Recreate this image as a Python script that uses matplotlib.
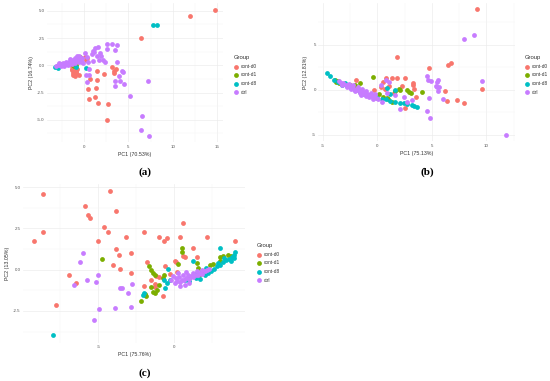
import matplotlib
matplotlib.use("Agg")
import matplotlib.pyplot as plt
from matplotlib.ticker import MultipleLocator

plt.rcParams["font.family"] = ["Liberation Sans", "DejaVu Sans"]

groups = ["cont-d0", "cont-d1", "cont-d8", "ctrl"]
colors = ["#F8766D", "#7CAE00", "#00BFC4", "#C77CFF"]

# ---- panel (a) ----
a_d0_x = [14.77, 11.9, 6.39, 2.56, 2.74, 1.61, 0.6, 1.24, 0.49, 1.39, 0.68, 1.5, 2.2, 1.45, 3.18, 3.35, 3.6, 3.42, -0.55, 0.11, 0.25, 0.3,
          -1.35, -1.2, -1.05, -1.3, -1.15, -0.95, -1.25, -1.05, -0.85, -1.4, -0.9, -1.1, -0.8, -1.2, -1.0]
a_d0_y = [5.1, 4.52, 2.48, -5.02, -3.52, -3.46, -3.05, -2.86, -2.2, -2.05, -1.25, -1.38, -0.83, -0.52, -0.18, -0.48, -0.3, -0.68, -0.85, 0.79, 0.49, 0.65,
          -0.1, -0.25, -0.35, -0.45, -0.55, -0.6, -0.7, -0.8, -0.75, -0.3, -0.45, -0.15, -0.3, -0.9, -0.95]
a_d1_x = [-0.6, -0.45, -1.25, -1.1, -0.95, -1.15]
a_d1_y = [0.8, 0.75, 0.05, 0.0, 0.05, -0.1]
a_d8_x = [7.82, 8.23, -3.25, -3.05, -2.7, 0.25, -0.85, -2.95]
a_d8_y = [3.67, 3.73, -0.15, -0.08, 0.12, -0.2, -0.12, -0.2]
a_ctrl_x = [2.63, 3.16, 3.76, 3.46, 2.56, 3.76, 4.25, 4.45, 3.95, 4.06, 4.51, 3.5, 3.5, 7.25, 5.19, 6.58, 6.39, 7.29, 0.37, 0.23,
            0.6, 0.6, 0.98, 1.72, 2.18, 2.4, 1.43, 1.8, 0.9, 1.28, 1.13, 1.0, 0.11, 0.37, -0.26, -0.15, -0.75, 1.55, 1.9, 0.5,
            -3.1, -2.9, -2.7, -2.5, -2.3, -2.1, -1.9, -1.7, -1.5, -1.3, -1.1, -0.9, -0.7, -0.5, -0.3, -2.8, -2.4, -2.0, -1.6, -1.2,
            -0.8, -0.4, -2.6, -2.2, -1.8, -1.4, -1.0, -0.6, -0.2, -1.6, -1.0, -0.6]
a_ctrl_y = [1.93, 1.98, 1.86, 1.38, 1.5, 0.33, -0.5, -0.62, -0.98, -1.47, -1.68, -1.47, -1.9, -1.41, -2.82, -4.65, -5.9, -6.49, -1.5, -0.89,
            -0.86, -0.34, 0.42, 0.49, 0.49, 0.3, 0.88, 1.1, 1.04, 1.56, 1.25, 1.35, 1.16, 0.79, 0.64, 0.18, 0.88, 1.7, 0.9, 0.3,
            -0.05, 0.0, 0.05, 0.1, 0.05, 0.15, 0.2, 0.15, 0.25, 0.3, 0.35, 0.4, 0.45, 0.5, 0.55, 0.2, 0.25, 0.3, 0.4, 0.5,
            0.55, 0.7, -0.1, -0.05, 0.0, 0.1, 0.2, 0.3, 0.35, 0.55, 0.65, 0.85]

# ---- panel (b) ----
b_d0_x = [9.18, 1.78, 4.7, 6.46, 6.72, -1.92, 0.5, 0.83, 1.32, 1.83, 2.5, 3.25, 3.28, 3.35, 2.24, 1.1, 0.34, 0.68, 3.58, 6.2,
          6.35, 7.33, 7.98, 9.63, 2.52, -0.3, 1.5]
b_d0_y = [8.94, 3.7, 2.48, 2.76, 3.02, 1.11, 0.93, 1.3, 1.3, 1.37, 1.37, 0.83, 0.5, 0.1, 0.44, 0.44, 0.37, 0.07, -0.74, -0.13,
          -1.19, -1.11, -1.48, 0.11, -1.95, 0.0, -0.3]
b_d1_x = [-3.88, -3.8, -3.6, -3.5, -1.59, -0.37, 0.55, 0.85, 1.32, 1.62, 2.08, 1.95, 2.7, 2.9, 3.05, 4.13, -2.0, -2.5, 0.2, 1.0]
b_d1_y = [1.11, 0.85, 0.95, 0.75, 0.78, 1.41, -0.74, -0.9, -1.3, -0.07, 0.0, 0.1, 0.0, -0.26, -0.37, -0.19, 0.5, 0.6, -0.5, -1.0]
b_d8_x = [-4.59, -4.34, -3.94, -3.6, -3.2, -2.8, -2.4, -2.0, -1.6, -1.2, -0.8, -0.4, 0.0, 0.4, 0.8, 1.2, 1.62, 2.08, 2.45, 2.75,
          3.21, 3.4, 3.61, 1.62, 1.17, 0.9, -3.0]
b_d8_y = [1.93, 1.56, 1.11, 0.85, 0.6, 0.4, 0.2, 0.0, -0.2, -0.4, -0.55, -0.7, -0.85, -1.0, -1.05, -1.2, -1.3, -1.48, -1.4, -1.59,
          -1.7, -1.78, -1.85, 0.0, -0.44, 0.2, 0.8]
b_ctrl_x = [8.9, 7.92, 9.63, 11.8, 4.53, 4.62, 4.93, 5.45, 5.6, 5.36, 5.5, 5.65, 5.54, 4.77, 6.06, 4.53, 4.84, 2.48, 3.15, 2.7,
            2.08, 0.8, 1.1, 0.3, 1.6, 0.9,
            -3.5, -3.3, -3.1, -2.9, -2.7, -2.5, -2.3, -2.1, -1.9, -1.7, -1.5, -1.3, -1.1, -0.9, -0.7, -0.5, -0.3, -0.1, 0.1,
            -3.2, -2.8, -2.4, -2.0, -1.6, -1.2, -0.8, -0.4, -2.6, -2.2, -1.8, -1.4, -1.0, -0.6, -0.2, 0.4, -1.5, -1.0]
b_ctrl_y = [6.14, 5.63, 1.04, -5.0, 1.56, 1.11, 0.96, 0.93, 1.1, 0.44, 0.3, 0.3, -0.07, -0.85, -1.04, -2.37, -3.11, -0.81, -1.11, -1.33,
            -2.11, 1.1, 0.9, 0.5, -0.6, -0.3,
            0.95, 0.8, 0.75, 0.6, 0.5, 0.4, 0.3, 0.15, 0.05, -0.05, -0.15, -0.25, -0.35, -0.5, -0.6, -0.7, -0.8, -0.9, -1.0,
            0.5, 0.3, 0.15, -0.1, -0.3, -0.5, -0.75, -0.95, 0.7, 0.5, 0.3, 0.1, -0.1, -0.3, -0.5, -1.3, -0.55, -0.7]

# ---- panel (c) ----
c_d0_x = [-8.66, -8.62, -9.26, -7.79, -6.91, -6.48, -5.88, -5.66, -5.55, -4.25, -3.86, -4.63, -4.34, -5.04, -3.18, -3.86, -3.64, -4.0,
          -3.6, -2.86, -2.87, -1.97, -1.78, -1.97, -1.01, -0.68, -0.5, 0.38, 0.59, 2.13, 3.99, 1.25, 0.55, 0.72, 0.05, 0.1,
          -0.72, -1.27, -1.3, -1.17, -1.0, -0.28, 0.16, 1.47, -0.6, -1.5]
c_d0_y = [4.59, 2.31, 1.76, -2.17, -0.32, -0.78, 3.86, 3.32, 3.15, 4.76, 3.54, 2.61, 2.31, 1.72, 2.01, 1.24, 0.87, 0.27,
          0.05, 1.03, -0.18, 2.26, 0.45, -1.0, 1.98, 1.74, 1.94, 1.98, 2.85, 2.0, 1.76, 1.33, 0.83, 0.78, 0.53, 0.45,
          -1.59, -1.05, -0.85, -0.4, -0.45, -0.28, -0.12, 0.75, 0.2, -0.6]
c_d1_x = [-4.78, -2.21, -1.93, -1.85, -1.55, -1.42, -1.3, -1.16, -1.64, -1.55, -1.38, -1.25, -0.72, -0.65, 0.49, 0.49, 0.26, 1.51,
          1.55, 1.6, 2.35, 2.55, 3.0, 3.2, 3.55, 3.75, 3.0, -1.9, -1.0, 1.0]
c_d1_y = [0.67, -1.88, -1.53, -1.6, -1.03, -1.33, -1.4, -1.23, 0.22, 0.0, -0.18, -0.35, -0.52, -0.3, 1.3, 1.1, 0.35, 0.39,
          0.1, -0.3, 0.28, 0.35, 0.75, 0.8, 0.89, 0.8, 0.55, -1.45, -0.9, -0.5]
c_d8_x = [-7.96, -2.04, -2.0, -0.61, -0.39, -0.28, -0.7, 3.0, 0.7, 1.0, 1.4, 1.7, 2.0, 2.2, 2.4, 2.6, 2.8, 3.0, 3.2, 3.4,
          3.6, 3.8, 3.95, 4.0, 3.9, 3.7, 2.9, 3.3, 1.5, 1.8, -0.5, 1.2, 2.1]
c_d8_y = [-3.98, -1.53, -1.4, -1.13, 0.02, -0.62, -0.6, 1.31, -0.62, -0.7, -0.5, -0.55, -0.35, -0.2, -0.1, 0.05, 0.2, 0.3, 0.45, 0.6,
          0.65, 0.75, 0.9, 1.05, 0.7, 0.55, 0.4, 0.7, -0.2, -0.1, -0.8, 0.5, 0.1]
c_ctrl_x = [-6.01, -6.17, -6.59, -5.77, -5.05, -5.16, -4.97, -5.27, -3.9, -3.55, -3.45, -3.03, -2.76, -2.87,
            0.05, 0.2, 0.35, 0.5, 0.65, 0.8, 0.95, 1.1, 1.25, 1.4, 1.55, 1.7, 1.85, 2.0, 2.15, 2.3,
            0.1, 0.3, 0.6, 0.9, 1.2, 1.5, 1.8, 0.4, 0.7, 1.0, -0.2, -0.1, 0.8, 0.25]
c_ctrl_y = [0.99, 0.44, -0.93, -0.63, -0.33, -0.72, -2.37, -3.05, -2.35, -1.11, -1.13, -1.43, -0.87, -2.29,
            -0.83, -0.7, -0.75, -0.6, -0.65, -0.5, -0.55, -0.4, -0.45, -0.3, -0.35, -0.2, -0.25, -0.1, -0.05, 0.05,
            -0.5, -0.45, -0.35, -0.3, -0.2, -0.1, 0.0, -1.0, -0.9, -0.8, -0.6, -0.4, -0.15, -0.2]

panels = [
    dict(data=[(a_d0_x, a_d0_y), (a_d1_x, a_d1_y), (a_d8_x, a_d8_y), (a_ctrl_x, a_ctrl_y)],
         box=(47, 3.4, 223, 142.4), xlim=(-4.17, 15.67), ylim=(-7.07, 5.68), xstep=5, ystep=2.5, yfmt="{:.1f}",
         xlabel="PC1 (70.53%)", ylabel="PC2 (16.74%)", legend=(231, 53), caption="(a)", cap=(145, 172)),
    dict(data=[(b_d0_x, b_d0_y), (b_d1_x, b_d1_y), (b_d8_x, b_d8_y), (b_ctrl_x, b_ctrl_y)],
         box=(318.3, 3, 514.9, 141.3), xlim=(-5.41, 12.62), ylim=(-5.7, 9.66), xstep=5, ystep=5, yfmt="{:.0f}",
         xlabel="PC1 (75.13%)", ylabel="PC2 (12.81%)", legend=(522, 53), caption="(b)", cap=(427, 172)),
    dict(data=[(c_d0_x, c_d0_y), (c_d1_x, c_d1_y), (c_d8_x, c_d8_y), (c_ctrl_x, c_ctrl_y)],
         box=(23.2, 183.7, 245.1, 342.6), xlim=(-9.94, 4.66), ylim=(-4.42, 5.21), xstep=5, ystep=2.5, yfmt="{:.1f}",
         xlabel="PC1 (75.76%)", ylabel="PC2 (13.05%)", legend=(254, 241), caption="(c)", cap=(145, 373)),
]

W, H = 550, 381
fig = plt.figure(figsize=(W / 100, H / 100), dpi=100)

for p in panels:
    x0, y0, x1, y1 = p["box"]
    ax = fig.add_axes([x0 / W, 1 - y1 / H, (x1 - x0) / W, (y1 - y0) / H])
    handles = []
    for (xs, ys), g, c in zip(p["data"], groups, colors):
        h = ax.scatter(xs, ys, s=12, color=c, linewidths=0, label=g, zorder=3)
        handles.append(h)
    ax.set_xlim(p["xlim"])
    ax.set_ylim(p["ylim"])
    ax.xaxis.set_major_locator(MultipleLocator(p["xstep"]))
    ax.yaxis.set_major_locator(MultipleLocator(p["ystep"]))
    ax.xaxis.set_minor_locator(MultipleLocator(p["xstep"] / 2))
    ax.yaxis.set_minor_locator(MultipleLocator(p["ystep"] / 2))
    ax.yaxis.set_major_formatter(lambda v, pos, f=p["yfmt"]: f.format(v))
    ax.xaxis.set_major_formatter(lambda v, pos: "{:.0f}".format(v))
    ax.grid(True, which="major", color="#EBEBEB", lw=0.45, zorder=0)
    ax.grid(True, which="minor", color="#F3F3F3", lw=0.3, zorder=0)
    for s in ax.spines.values():
        s.set_visible(False)
    ax.tick_params(which="both", length=0, labelsize=3.2, labelcolor="#555555", pad=1.8)
    ax.set_xlabel(p["xlabel"], fontsize=3.8, color="#333333", labelpad=2)
    ax.set_ylabel(p["ylabel"], fontsize=3.8, color="#333333", labelpad=2.5)
    ax.set_facecolor("white")

    lx, ly = p["legend"]
    leg = fig.legend(handles=handles, labels=groups, title="Group", loc="upper left",
                     bbox_to_anchor=(lx / W, 1 - ly / H), frameon=False, fontsize=3.4,
                     title_fontsize=4.2, labelspacing=0.75, handletextpad=0.6, borderpad=0,
                     handlelength=1.0, markerscale=1.0, alignment="left")
    leg.get_title().set_color("#333333")
    for t in leg.get_texts():
        t.set_color("#333333")

    cx, cy = p["cap"]
    fig.text(cx / W, 1 - cy / H, p["caption"], ha="center", va="center", fontsize=8,
             fontweight="bold", family=["Liberation Serif", "DejaVu Serif"])

fig.savefig("out.png", dpi=100, facecolor="white")
